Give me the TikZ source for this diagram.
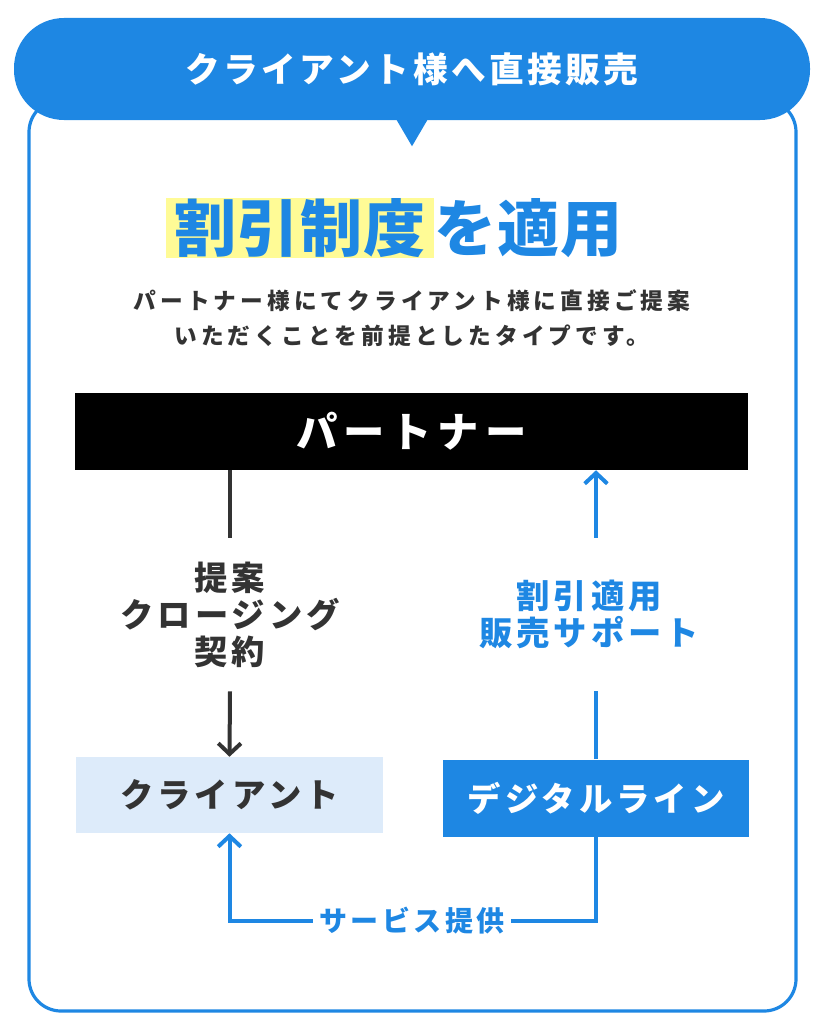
\documentclass[tikz,border=0pt]{standalone}
\usepackage{fontspec}
\setmainfont{Noto Sans CJK JP}
\usetikzlibrary{arrows.meta,positioning}
\definecolor{lineblue}{HTML}{1E87E3}
\definecolor{inkgray}{HTML}{333333}
\definecolor{paleblue}{HTML}{DDEBFA}
\definecolor{marker}{HTML}{FFFB96}
\begin{document}
\begin{tikzpicture}[x=0.75pt,y=-0.75pt,
		every node/.style = {inner sep=0pt},
		bannerfont/.style = {font=\fontsize{26pt}{28pt}\selectfont\bfseries\addfontfeatures{LetterSpace=10}},
		titlefont/.style = {font=\fontsize{46.5pt}{50pt}\selectfont\bfseries\addfontfeatures{LetterSpace=2}},
		notefont/.style = {font=\fontsize{17pt}{26.25pt}\selectfont\bfseries\addfontfeatures{LetterSpace=18}},
		boxfont/.style = {font=\fontsize{31pt}{34pt}\selectfont\bfseries\addfontfeatures{LetterSpace=14}},
		labelfont/.style = {font=\fontsize{25pt}{27.75pt}\selectfont\bfseries\addfontfeatures{LetterSpace=12}},
		smallfont/.style = {font=\fontsize{21pt}{23pt}\selectfont\bfseries\addfontfeatures{LetterSpace=12}},
		wire/.style = {line width=3pt},
		tip/.style = {-{Straight Barb[length=8pt,width=17pt]}}]
	\useasboundingbox (0,0) rectangle (822,1024);
	% frame and banner
	\draw[lineblue, line width=2.4pt, rounded corners=24pt] (29,100) rectangle (796,1011);
	\node[fill=lineblue, text=white, rounded corners=37.5pt, minimum width=597pt,
		minimum height=76.5pt, bannerfont] (banner) at (412,69) {クライアント様へ直接販売};
	\fill[lineblue] ([xshift=-12pt,yshift=1pt]banner.south) -- ([xshift=12pt,yshift=1pt]banner.south)
		-- ([yshift=-19.5pt]banner.south) -- cycle;
	% title
	\node[fill=marker, inner xsep=6pt, minimum height=43.5pt, text=lineblue, titlefont] (hl) at (300,228) {割引制度};
	\node[right=0pt of hl, text=lineblue, titlefont] (rest) {を適用};
	\node[align=center, text=inkgray, notefont] (note) at (412,318)
		{パートナー様にてクライアント様に直接ご提案\\いただくことを前提としたタイプです。};
	% boxes
	\node[fill=black, text=white, minimum width=504.75pt, minimum height=57.75pt, boxfont] (partner) at (411.5,431.5) {パートナー};
	\node[fill=paleblue, text=inkgray, minimum width=230.25pt, minimum height=57pt, labelfont] (client) at (229.5,795) {クライアント};
	\node[fill=lineblue, text=white, minimum width=229.5pt, minimum height=57.75pt, labelfont] (digital) at (596,798) {デジタルライン};
	% labels
	\node[align=center, text=inkgray, minimum height=114.75pt, labelfont] (deal) at (230,614.5) {提案\\クロージング\\契約};
	\node[align=center, text=lineblue, minimum height=114.75pt, labelfont] (support) at (589,614.5) {割引適用\\販売サポート};
	\node[inner xsep=5pt, text=lineblue, smallfont] (service) at (412,921) {サービス提供};
	% connectors
	\draw[inkgray, wire] (partner.south -| deal) -- (deal.north);
	\draw[inkgray, wire, tip] (deal.south) -- (client.north);
	\draw[lineblue, wire] (digital.north) -- (digital.north |- support.south);
	\draw[lineblue, wire, tip] (digital.north |- support.north) -- (digital.north |- partner.south);
	\draw[lineblue, wire] (digital.south) |- (service.east);
	\draw[lineblue, wire, tip] (service.west) -| (client.south);
\end{tikzpicture}
\end{document}
